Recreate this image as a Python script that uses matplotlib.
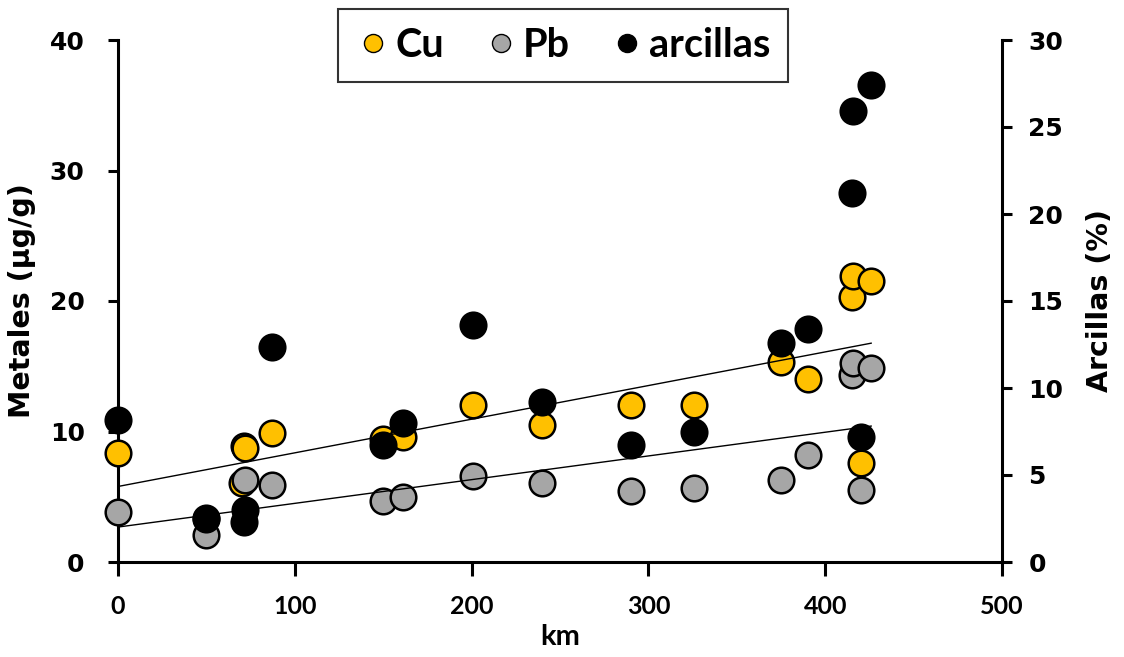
import numpy as np
import matplotlib
matplotlib.use("Agg")
import matplotlib.pyplot as plt
from matplotlib.lines import Line2D

# ---- data ----
x_cu = [0, 50, 70, 71, 72, 87, 150, 161, 201, 240, 290, 326, 375, 390, 415, 416, 420, 426]
cu = [8.35, 3.4, 6.05, 8.9, 8.7, 9.9, 9.4, 9.6, 12.0, 10.5, 12.0, 12.0, 15.3, 14.0, 20.3, 21.9, 7.6, 21.5]

x_pb = [0, 50, 72, 87, 150, 161, 201, 240, 290, 326, 375, 390, 415, 416, 420, 426]
pb = [3.8, 2.05, 6.3, 5.9, 4.65, 5.0, 6.6, 6.05, 5.45, 5.65, 6.3, 8.2, 14.3, 15.25, 5.5, 14.85]

x_ar = [0, 50, 71, 72, 87, 150, 161, 201, 240, 290, 326, 375, 390, 415, 416, 420, 426]
ar = [8.15, 2.5, 2.3, 3.0, 12.35, 6.7, 8.0, 13.6, 9.2, 6.7, 7.5, 12.6, 13.4, 21.2, 25.9, 7.2, 27.4]

left_ticks = [0, 10, 20, 30, 40]
right_ticks = [0, 5, 10, 15, 20, 25, 30]
x_ticks = [0, 100, 200, 300, 400, 500]

C_CU = "#FFC000"
C_PB = "#A6A6A6"
C_AR = "#000000"

fig = plt.figure(figsize=(11.24, 6.57), dpi=100)
ax = fig.add_axes([118/1124, 1-562/657, (1002-118)/1124, (562-40)/657])
ax2 = ax.twinx()

ms = 340
ax.scatter(x_cu, cu, s=ms, c=C_CU, edgecolors="black", linewidths=1.8, zorder=3, clip_on=False)
ax.scatter(x_pb, pb, s=ms, c=C_PB, edgecolors="black", linewidths=1.8, zorder=4, clip_on=False)

# linear trend lines
for xs, ys in ((x_cu, cu), (x_pb, pb)):
    p = np.polyfit(xs, ys, 1)
    xx = np.array([min(xs), max(xs)])
    ax.plot(xx, np.polyval(p, xx), color="black", lw=1.0, zorder=5)

ax2.scatter(x_ar, ar, s=ms, c=C_AR, edgecolors="black", linewidths=1.8, zorder=3, clip_on=False)

ax.set_xlim(0, 500)
ax.set_ylim(0, 40)
ax2.set_ylim(0, 30)
ax.set_xticks(x_ticks)
ax.set_yticks(left_ticks)
ax2.set_yticks(right_ticks)

for a in (ax, ax2):
    a.spines["top"].set_visible(False)
    for s in a.spines.values():
        s.set_linewidth(2.2)
ax.spines["right"].set_visible(False)
ax2.spines["left"].set_visible(False)
ax2.spines["bottom"].set_visible(False)

yfont = dict(family="DejaVu Sans", weight="bold")
xfont = dict(family="Lato", weight="bold")

ax.tick_params(axis="y", direction="out", length=7, width=2.2, pad=17, labelsize=18)
ax2.tick_params(axis="y", direction="out", length=7, width=2.2, pad=12, labelsize=18)
ax.tick_params(axis="x", direction="out", length=10, width=2.2, pad=14, labelsize=18)
for lab in ax.get_yticklabels() + ax2.get_yticklabels():
    lab.set_fontfamily("DejaVu Sans"); lab.set_fontweight("bold")
for lab in ax.get_xticklabels():
    lab.set_fontfamily("Lato"); lab.set_fontweight("bold")

ax.set_xlabel("km", fontsize=21, labelpad=4, **xfont)
ax.set_ylabel("Metales (µg/g)", fontsize=20.5, labelpad=10, **yfont)
ax2.set_ylabel("Arcillas (%)", fontsize=20.5, labelpad=16, **yfont)

handles = [
    Line2D([], [], ls="", marker="o", ms=13, mfc=C_CU, mec="black", mew=1.0, label="Cu"),
    Line2D([], [], ls="", marker="o", ms=13, mfc=C_PB, mec="black", mew=1.0, label="Pb"),
    Line2D([], [], ls="", marker="o", ms=13, mfc=C_AR, mec="black", mew=1.0, label="arcillas"),
]
leg = fig.legend(handles=handles, loc="center", bbox_to_anchor=(563/1124, 1-45.5/657),
                 ncol=3, frameon=True, fancybox=False, edgecolor="black",
                 prop=dict(family="Lato", weight="bold", size=28.5),
                 handletextpad=0.1, columnspacing=1.0, handlelength=0.9,
                 borderpad=0.45, borderaxespad=0)
leg.get_frame().set_linewidth(1.5)

fig.savefig("out.png", dpi=100)
